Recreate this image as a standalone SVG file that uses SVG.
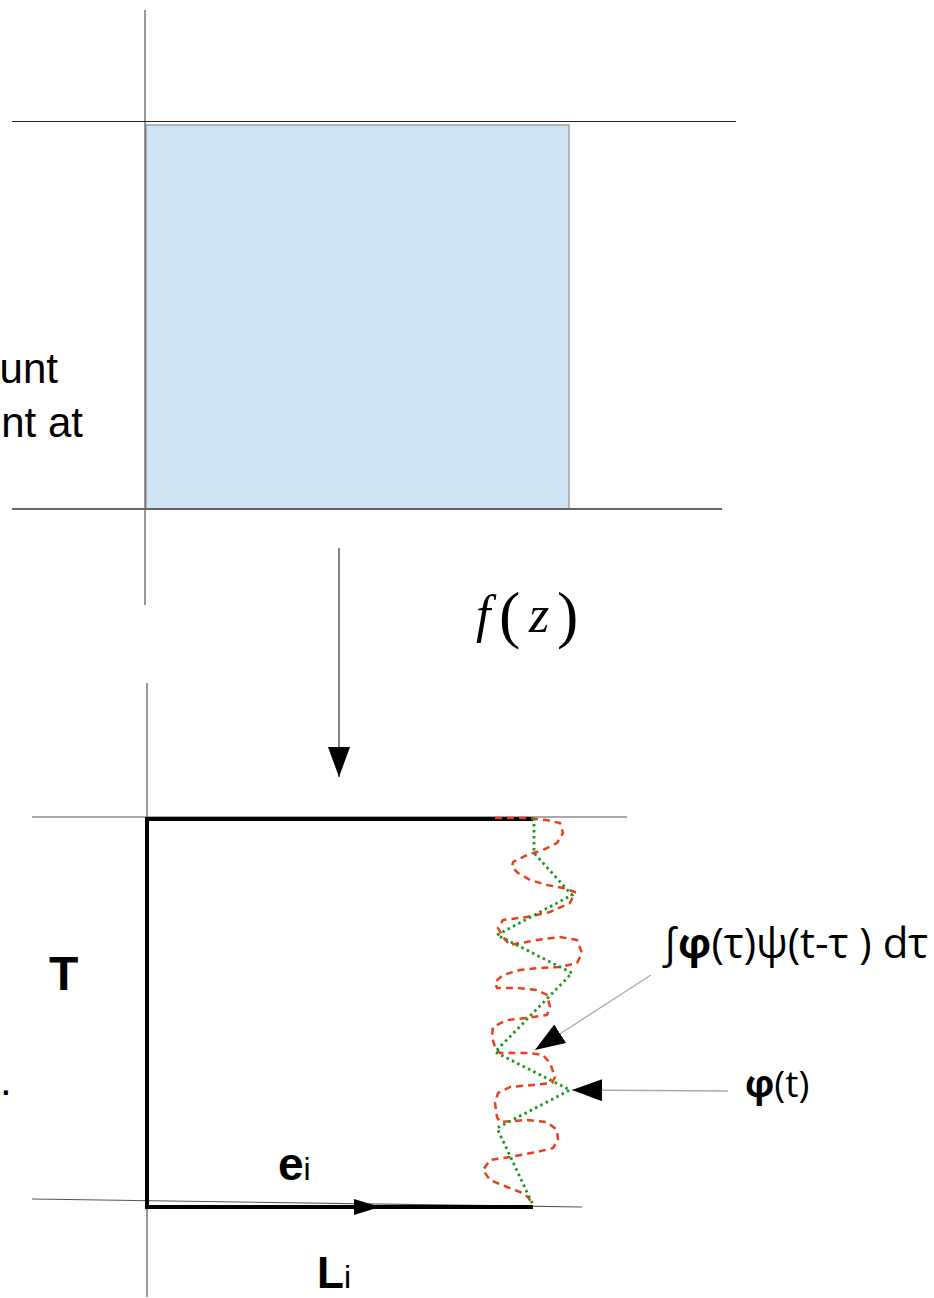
<svg xmlns="http://www.w3.org/2000/svg" width="934" height="1298" viewBox="0 0 934 1298">
<style>
.axis{stroke:#333;stroke-width:1;fill:none}
.thin{stroke:#555;stroke-width:1.2;fill:none}
.thick{stroke:#000;stroke-width:4;fill:none}
.ptr{stroke:#aaa;stroke-width:1.3;fill:none}
.red{stroke:#e8401c;stroke-width:2.5;fill:none;stroke-dasharray:7 5;stroke-linejoin:round}
.green{stroke:#1a961a;stroke-width:2.8;fill:none;stroke-dasharray:2.5 3.5}
.sans{font-family:"Liberation Sans",Arial,sans-serif;fill:#000}
.lbl{font-family:"Open Sans","DejaVu Sans",sans-serif;fill:#000}
.ser{font-family:"Liberation Serif","Times New Roman",serif;fill:#000}
</style>
<defs>
<marker id="ah" viewBox="0 0 30 22" refX="30" refY="11" markerWidth="30" markerHeight="22" markerUnits="userSpaceOnUse" orient="auto">
<path d="M0,0 L30,11 L0,22 z" fill="#000"/>
</marker>
<marker id="ahs" viewBox="0 0 26 16" refX="26" refY="8" markerWidth="26" markerHeight="16" markerUnits="userSpaceOnUse" orient="auto">
<path d="M0,0 L26,8 L0,16 z" fill="#000"/>
</marker>
</defs>

<g id="top-plane">
<rect x="146" y="125" width="423" height="384" fill="#cfe5f3" stroke="#8a8a8a" stroke-width="1.2"/>
<line class="axis" x1="145" y1="10" x2="145" y2="605"/>
<line x1="12" y1="121.5" x2="736" y2="121.5" stroke="#222" stroke-width="1.2"/>
<line x1="12" y1="509" x2="722" y2="509" stroke="#666" stroke-width="1.8"/>
</g>

<g id="left-text">
<text class="sans" x="58" y="383" font-size="42" text-anchor="end">unt</text>
<text class="sans" x="83" y="437" font-size="42" text-anchor="end">nt at</text>
<text class="sans" x="0" y="1095" font-size="42">.</text>
</g>

<g id="map-label">
<text class="ser" x="476" y="632" font-size="52" font-style="italic">f</text>
<text class="ser" x="499" y="636" font-size="64">(</text>
<text class="ser" x="529" y="632" font-size="52" font-style="italic">z</text>
<text class="ser" x="557" y="636" font-size="64">)</text>
</g>

<g id="bottom-plane">
<line class="axis" x1="147" y1="683" x2="147" y2="1297"/>
<line class="thin" x1="32" y1="817" x2="627" y2="817"/>
<line class="thin" x1="32" y1="1199" x2="582" y2="1207"/>
<path class="thick" d="M533,819 L147,819 L147,1207 L380,1207"/>
<line class="thick" x1="376" y1="1207" x2="533" y2="1207"/>
<text class="sans" x="49" y="990" font-size="48" font-weight="bold">T</text>
<text class="sans" x="278" y="1180" font-size="46" font-weight="bold">e<tspan font-size="32" font-weight="normal">i</tspan></text>
<text class="sans" x="317" y="1288" font-size="44" font-weight="bold">L<tspan font-size="32" font-weight="normal">i</tspan></text>
</g>

<g id="curves">
<path class="red" d="M495,818 L527,818 L546,820 L560,823 L563,833 L557,843 L543,850 L527,855 L513,862 L512,867 L518,873 L530,880 L547,885 L563,888 L575,892 L570,903 L550,912 L527,917 L503,920 L498,928 L503,937 L510,945 L537,940 L560,937 L577,940 L582,953 L577,963 L560,967 L540,968 L520,970 L503,975 L495,982 L497,988 L517,988 L537,990 L547,995 L550,1007 L547,1015 L527,1018 L507,1020 L493,1027 L492,1037 L495,1047 L500,1053 L530,1053 L543,1055 L550,1063 L555,1077 L552,1083 L533,1085 L510,1087 L498,1093 L495,1103 L497,1117 L500,1122 L527,1120 L547,1122 L557,1130 L558,1140 L553,1148 L537,1152 L510,1157 L490,1160 L483,1170 L490,1180 L507,1187 L520,1192 L528,1197 L533,1205"/>
<polyline class="green" points="534,818 534,853 572,895 497,935 572,973 495,1052 570,1090 497,1128 533,1205"/>
</g>

<g id="connectors">
<line x1="339" y1="548" x2="339" y2="777" stroke="#333" stroke-width="1.2" marker-end="url(#ah)"/>
<line x1="147" y1="1207" x2="380" y2="1207" stroke="#000" stroke-width="4" marker-end="url(#ahs)"/>
<line class="ptr" x1="651" y1="975" x2="535" y2="1050" marker-end="url(#ah)"/>
<line class="ptr" x1="728" y1="1091" x2="572" y2="1090" marker-end="url(#ah)"/>
</g>

<g id="labels">
<text class="lbl" x="662" y="958" font-size="42">∫<tspan font-weight="bold">φ</tspan>(τ)ψ(t-τ ) dτ</text>
<text class="lbl" x="745" y="1097" font-size="37"><tspan font-weight="bold">φ</tspan>(t)</text>
</g>
</svg>
